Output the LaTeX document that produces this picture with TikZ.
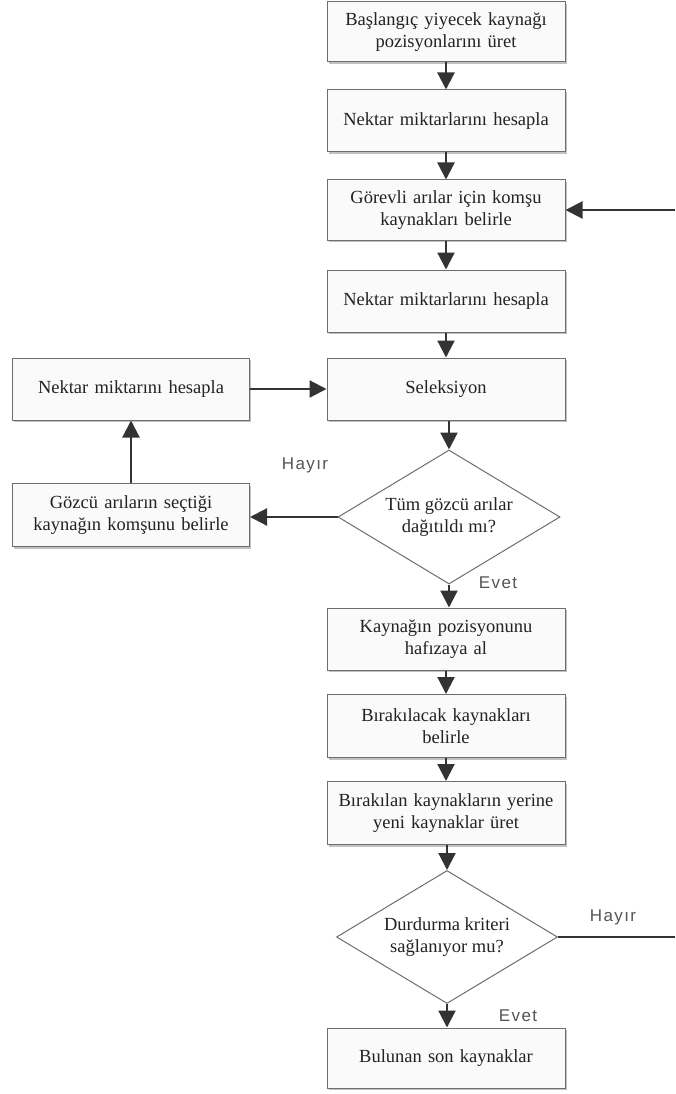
\documentclass[tikz,border=0pt]{standalone}
\usepackage{fontspec}
\setmainfont{Liberation Serif}
\newfontfamily\labfont[LetterSpace=8]{Liberation Sans}
\usetikzlibrary{arrows.meta,shapes.geometric,shadows}
\definecolor{boxline}{HTML}{6E6E6E}
\definecolor{boxfill}{HTML}{FAFAFA}
\definecolor{arrowcol}{HTML}{333333}
\definecolor{txtcol}{HTML}{222222}
\definecolor{labcol}{HTML}{555555}
\tikzset{
  procbox/.style={draw=boxline, line width=1pt, fill=boxfill, rectangle,
    minimum width=238pt, text width=236pt, align=center, inner sep=0pt,
    text=txtcol, font=\fontsize{18.5}{22}\selectfont,
    drop shadow={shadow xshift=1.5pt, shadow yshift=-2pt, fill=black!40, opacity=0.6}},
  decision/.style={draw=boxline, line width=1pt, fill=white, diamond, aspect=1.65, inner sep=0pt,
    align=center, text=txtcol, font=\fontsize{18.5}{22}\selectfont},
  flow/.style={draw=arrowcol, line width=2.2pt, -{Triangle[length=17pt,width=17pt]}},
  plainline/.style={draw=arrowcol, line width=1.6pt},
  lab/.style={text=labcol, font=\labfont\fontsize{17}{19}\selectfont, inner sep=0pt}
}
\begin{document}
\begin{tikzpicture}[x=1pt,y=-1pt]
\useasboundingbox (0,0) rectangle (675,1094);
\fill[white] (0,0) rectangle (675,1094);

\node[procbox, minimum height=60pt] (b1) at (446,32) {Başlangıç yiyecek kaynağı\\pozisyonlarını üret};
\node[procbox, minimum height=62pt] (b2) at (446,121) {Nektar miktarlarını hesapla};
\node[procbox, minimum height=60pt] (b3) at (446,210) {Görevli arılar için komşu\\kaynakları belirle};
\node[procbox, minimum height=62pt] (b4) at (446,301) {Nektar miktarlarını hesapla};
\node[procbox, minimum height=62pt] (b5) at (446,389) {Seleksiyon};
\node[decision, minimum width=222pt, minimum height=134pt] (d1) at (449,517) {Tüm gözcü arılar\\dağıtıldı mı?};
\node[procbox, minimum width=237pt, minimum height=62pt] (l1) at (131,389) {Nektar miktarını hesapla};
\node[procbox, minimum width=237pt, minimum height=63pt] (l2) at (131,515) {Gözcü arıların seçtiği\\kaynağın komşunu belirle};
\node[procbox, minimum height=62pt] (b6) at (446,639) {Kaynağın pozisyonunu\\hafızaya al};
\node[procbox, minimum height=63pt] (b7) at (446,726) {Bırakılacak kaynakları\\belirle};
\node[procbox, minimum height=63pt] (b8) at (446,813) {Bırakılan kaynakların yerine\\yeni kaynaklar üret};
\node[decision, minimum width=221pt, minimum height=133pt] (d2) at (447,937) {Durdurma kriteri\\sağlanıyor mu?};
\node[procbox, minimum height=60pt] (b9) at (446,1058) {Bulunan son kaynaklar};

\coordinate (rin) at (675,210);
\coordinate (rout) at (675,937);

\draw[flow] (b1) -- (b2);
\draw[flow] (b2) -- (b3);
\draw[flow] (b3) -- (b4);
\draw[flow] (b4) -- (b5);
\draw[flow] (b5.south -| d1.north) -- (d1.north);
\draw[flow] (d1.south) -- (b6.north -| d1.south);
\draw[flow] (b6) -- (b7);
\draw[flow] (b7) -- (b8);
\draw[flow] (b8.south -| d2.north) -- (d2.north);
\draw[flow] (d2.south) -- (b9.north -| d2.south);
\draw[flow] (rin) -- (b3.east);
\draw[plainline] (d2.east) -- (rout);
\draw[flow] (d1.west) -- (d1.west -| l2.east);
\draw[flow] (l2.north) -- (l1.south);
\draw[flow] (l1.east) -- (b5.west);

\node[lab] (h1) at (305,465) {Hayır};
\node[lab] (e1) at (498,583) {Evet};
\node[lab] (h2) at (613,917) {Hayır};
\node[lab] (e2) at (518,1016) {Evet};
\end{tikzpicture}
\end{document}
